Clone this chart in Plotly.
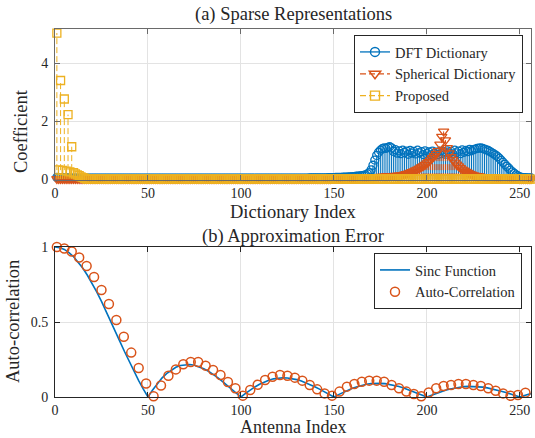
import plotly.graph_objects as go

# ---------------- data ----------------
dict_index = list(range(1, 257))

dft_coef = [
    0.06, 0.05, 0.05, 0.04, 0.04, 0.04, 0.04, 0.03, 0.03, 0.03, 0.03, 0.03, 0.03, 0.03, 0.03, 0.03,
    0.03, 0.03, 0.03, 0.03, 0.03, 0.03, 0.03, 0.03, 0.03, 0.03, 0.03, 0.03, 0.03, 0.03, 0.03, 0.03,
    0.03, 0.03, 0.03, 0.03, 0.03, 0.03, 0.03, 0.03, 0.03, 0.03, 0.03, 0.03, 0.03, 0.03, 0.03, 0.03,
    0.03, 0.03, 0.03, 0.03, 0.03, 0.03, 0.03, 0.03, 0.03, 0.03, 0.03, 0.03, 0.03, 0.03, 0.03, 0.03,
    0.03, 0.03, 0.03, 0.03, 0.03, 0.03, 0.03, 0.03, 0.03, 0.03, 0.03, 0.03, 0.03, 0.03, 0.03, 0.03,
    0.03, 0.03, 0.03, 0.03, 0.03, 0.03, 0.03, 0.03, 0.03, 0.03, 0.03, 0.03, 0.03, 0.03, 0.03, 0.03,
    0.03, 0.03, 0.03, 0.03, 0.03, 0.03, 0.03, 0.03, 0.03, 0.03, 0.03, 0.03, 0.03, 0.03, 0.03, 0.03,
    0.03, 0.03, 0.03, 0.03, 0.03, 0.03, 0.03, 0.03, 0.03, 0.03, 0.03, 0.03, 0.03, 0.03, 0.03, 0.03,
    0.03, 0.03, 0.03, 0.03, 0.03, 0.03, 0.03, 0.03, 0.04, 0.04, 0.04, 0.04, 0.04, 0.04, 0.04, 0.04,
    0.04, 0.04, 0.05, 0.05, 0.05, 0.05, 0.06, 0.06, 0.06, 0.06, 0.07, 0.07, 0.07, 0.08, 0.08, 0.09,
    0.09, 0.10, 0.10, 0.11, 0.12, 0.13, 0.15, 0.18, 0.22, 0.32, 0.48, 0.66, 0.82, 0.93, 1.00, 1.05,
    1.08, 1.06, 1.10, 1.12, 1.08, 0.96, 1.02, 0.90, 0.98, 0.88, 1.00, 0.92, 0.97, 0.86, 0.99, 0.90,
    0.96, 0.87, 1.00, 0.91, 0.95, 0.85, 0.98, 0.88, 0.94, 0.84, 0.97, 0.89, 0.93, 0.85, 0.96, 0.88,
    0.95, 0.86, 0.98, 0.90, 0.96, 0.87, 1.00, 0.91, 0.97, 0.88, 1.01, 0.93, 0.99, 0.95, 1.03, 0.98,
    1.02, 1.04, 1.06, 1.07, 1.08, 1.06, 1.04, 1.01, 0.99, 0.95, 0.91, 0.87, 0.83, 0.78, 0.72, 0.65,
    0.58, 0.51, 0.44, 0.38, 0.31, 0.25, 0.20, 0.15, 0.11, 0.08, 0.06, 0.05, 0.05, 0.04, 0.04, 0.04,
]

sph_coef = [
    0.01, 0.01, 0.01, 0.01, 0.01, 0.01, 0.01, 0.01, 0.01, 0.01, 0.01, 0.01, 0.01, 0.01, 0.01, 0.01,
    0.01, 0.01, 0.01, 0.01, 0.01, 0.01, 0.01, 0.01, 0.01, 0.01, 0.01, 0.01, 0.01, 0.01, 0.01, 0.01,
    0.01, 0.01, 0.01, 0.01, 0.01, 0.01, 0.01, 0.01, 0.01, 0.01, 0.01, 0.01, 0.01, 0.01, 0.01, 0.01,
    0.01, 0.01, 0.01, 0.01, 0.01, 0.01, 0.01, 0.01, 0.01, 0.01, 0.01, 0.01, 0.01, 0.01, 0.01, 0.01,
    0.01, 0.01, 0.01, 0.01, 0.01, 0.01, 0.01, 0.01, 0.01, 0.01, 0.01, 0.01, 0.01, 0.01, 0.01, 0.01,
    0.01, 0.01, 0.01, 0.01, 0.01, 0.01, 0.01, 0.01, 0.01, 0.01, 0.01, 0.01, 0.01, 0.01, 0.01, 0.01,
    0.01, 0.01, 0.01, 0.01, 0.01, 0.01, 0.01, 0.01, 0.01, 0.01, 0.01, 0.01, 0.01, 0.01, 0.01, 0.01,
    0.01, 0.01, 0.01, 0.01, 0.01, 0.01, 0.01, 0.01, 0.01, 0.01, 0.01, 0.01, 0.01, 0.01, 0.01, 0.01,
    0.01, 0.01, 0.01, 0.01, 0.01, 0.01, 0.01, 0.01, 0.01, 0.01, 0.01, 0.01, 0.01, 0.01, 0.01, 0.01,
    0.01, 0.01, 0.01, 0.01, 0.02, 0.02, 0.02, 0.02, 0.02, 0.02, 0.03, 0.03, 0.03, 0.03, 0.04, 0.04,
    0.04, 0.04, 0.05, 0.05, 0.05, 0.06, 0.06, 0.06, 0.07, 0.07, 0.07, 0.08, 0.08, 0.08, 0.09, 0.09,
    0.09, 0.10, 0.10, 0.10, 0.11, 0.11, 0.12, 0.12, 0.13, 0.14, 0.15, 0.16, 0.18, 0.20, 0.22, 0.25,
    0.28, 0.31, 0.34, 0.37, 0.41, 0.45, 0.50, 0.55, 0.60, 0.66, 0.73, 0.80, 0.88, 0.98, 1.20, 1.47,
    1.65, 1.35, 1.08, 0.90, 0.77, 0.67, 0.58, 0.51, 0.45, 0.39, 0.34, 0.30, 0.26, 0.22, 0.19, 0.16,
    0.14, 0.12, 0.11, 0.10, 0.09, 0.08, 0.08, 0.07, 0.07, 0.06, 0.06, 0.05, 0.05, 0.04, 0.04, 0.04,
    0.03, 0.03, 0.03, 0.03, 0.02, 0.02, 0.02, 0.02, 0.02, 0.01, 0.01, 0.01, 0.01, 0.01, 0.01, 0.01,
]

prop_coef = [
    5.05, 0.32, 3.41, 0.30, 2.77, 0.28, 2.23, 0.25, 1.12, 0.22, 0.18, 0.15, 0.12, 0.08, 0.05, 0.03,
] + [0.0] * 240

x_ticks = [0, 50, 100, 150, 200, 250]
y_ticks_top = [0, 2, 4]
y_ticks_bot = [0, 0.5, 1]
y_ticklabels_bot = ["0", "0.5", "1"]

sinc_x = [i * 2.5 for i in range(103)] + [256]
sinc_vals = [
    1.000, 0.996, 0.984, 0.963, 0.935, 0.900, 0.858, 0.810, 0.757, 0.699,
    0.637, 0.572, 0.505, 0.436, 0.368, 0.300, 0.234, 0.170, 0.109, 0.052,
    0.000, 0.047, 0.089, 0.126, 0.156, 0.180, 0.198, 0.210, 0.216, 0.217,
    0.212, 0.203, 0.189, 0.172, 0.152, 0.129, 0.104, 0.078, 0.052, 0.026,
    0.000, 0.024, 0.047, 0.067, 0.085, 0.100, 0.112, 0.121, 0.126, 0.128,
    0.127, 0.123, 0.116, 0.107, 0.095, 0.082, 0.067, 0.051, 0.034, 0.017,
    0.000, 0.016, 0.032, 0.046, 0.059, 0.069, 0.078, 0.085, 0.089, 0.091,
    0.091, 0.089, 0.084, 0.078, 0.070, 0.060, 0.049, 0.038, 0.025, 0.013,
    0.000, 0.012, 0.024, 0.035, 0.045, 0.053, 0.060, 0.065, 0.069, 0.071,
    0.071, 0.069, 0.066, 0.061, 0.055, 0.047, 0.039, 0.030, 0.020, 0.010,
    0.000, 0.010, 0.019, 0.023,
]

ac_x = list(range(1, 257, 4))
ac_vals = [
    1.00, 0.99, 0.97, 0.93, 0.873, 0.80, 0.713, 0.62, 0.513, 0.402, 0.296, 0.193, 0.09, 0.005,
    0.077, 0.142, 0.184, 0.218, 0.233, 0.233, 0.209, 0.18, 0.147, 0.10, 0.058, 0.009,
    0.047, 0.082, 0.113, 0.135, 0.147, 0.142, 0.129, 0.109, 0.08, 0.051, 0.024, 0.009,
    0.036, 0.069, 0.087, 0.102, 0.109, 0.109, 0.102, 0.08, 0.058, 0.036, 0.02, 0.005,
    0.03, 0.058, 0.073, 0.08, 0.087, 0.087, 0.08, 0.073, 0.058, 0.042, 0.024, 0.008, 0.013, 0.029,
]

# ---------------- styling ----------------
BLUE = "#0072BD"
ORANGE = "#D95319"
YELLOW = "#EDB120"
TXT = "#262626"
FONT = "Liberation Serif"
GRID = "#e3e3e3"

W, H = 535, 438


def px(x):
    return x / W


def py(y):
    return (H - y) / H


def stem_xy(xv, yv):
    xs, ys = [], []
    for a, b in zip(xv, yv):
        xs += [a, a, None]
        ys += [0, b, None]
    return xs, ys


fig = go.Figure()

series = [
    ("DFT Dictionary", dft_coef, BLUE, "solid", "circle-open", 8),
    ("Spherical Dictionary", sph_coef, ORANGE, "6px,3px", "triangle-down-open", 9),
    ("Proposed", prop_coef, YELLOW, "6px,3px", "square-open", 8),
]

for name, vals, col, dash, sym, msize in series:
    sx, sy = stem_xy(dict_index, vals)
    fig.add_trace(go.Scatter(x=sx, y=sy, mode="lines", line=dict(color=col, width=1, dash=dash),
                             showlegend=False, hoverinfo="skip", xaxis="x", yaxis="y"))
    fig.add_trace(go.Scatter(x=dict_index, y=vals, mode="markers", cliponaxis=False,
                             marker=dict(symbol=sym, size=msize, color=col, line=dict(color=col, width=1.3)),
                             showlegend=False, xaxis="x", yaxis="y"))

for name, vals, col, dash, sym, msize in series:
    fig.add_trace(go.Scatter(x=[None], y=[None], mode="lines+markers", name=name,
                             line=dict(color=col, width=1.3, dash=dash),
                             marker=dict(symbol=sym, size=msize + 1, color=col, line=dict(color=col, width=1.4)),
                             legend="legend", xaxis="x", yaxis="y"))

fig.add_trace(go.Scatter(x=sinc_x, y=sinc_vals, mode="lines", name="Sinc Function",
                         line=dict(color=BLUE, width=1.6), legend="legend2", xaxis="x2", yaxis="y2"))
fig.add_trace(go.Scatter(x=ac_x, y=ac_vals, mode="markers", name="Auto-Correlation", cliponaxis=False,
                         marker=dict(symbol="circle-open", size=9, color=ORANGE, line=dict(color=ORANGE, width=1.5)),
                         legend="legend2", xaxis="x2", yaxis="y2"))

xdom = [px(55), px(531)]
top_dom = [py(180), py(29.3)]
bot_dom = [py(397), py(247)]

common = dict(showgrid=True, gridcolor=GRID, gridwidth=1, zeroline=False, showline=True,
              mirror="ticks", ticks="inside", ticklen=5, tickwidth=0.8, automargin=False,
              tickfont=dict(family=FONT, size=14, color=TXT))

fig.update_layout(
    width=W, height=H,
    margin=dict(l=0, r=0, t=0, b=0, autoexpand=False),
    paper_bgcolor="white", plot_bgcolor="white",
    showlegend=True,
    xaxis=dict(domain=xdom, anchor="y", range=[0, 256], tickvals=x_ticks,
               linecolor="#6a6a6a", tickcolor="#6a6a6a", **common),
    yaxis=dict(domain=top_dom, anchor="x", range=[-0.03, 5.18], tickvals=y_ticks_top,
               linecolor="#6a6a6a", tickcolor="#6a6a6a", ticklabelstandoff=3, **common),
    xaxis2=dict(domain=xdom, anchor="y2", range=[0, 256], tickvals=x_ticks,
                linecolor=TXT, tickcolor=TXT, **common),
    yaxis2=dict(domain=bot_dom, anchor="x2", range=[0, 1], tickvals=y_ticks_bot,
                ticktext=y_ticklabels_bot, linecolor=TXT, tickcolor=TXT, ticklabelstandoff=3, **common),
    legend=dict(x=px(523), y=py(35), xanchor="right", yanchor="top",
                bgcolor="white", bordercolor=TXT, borderwidth=1,
                font=dict(family=FONT, size=14.5, color=TXT), tracegroupgap=0,
                itemwidth=30),
    legend2=dict(x=px(522), y=py(253), xanchor="right", yanchor="top",
                 bgcolor="white", bordercolor=TXT, borderwidth=1,
                 font=dict(family=FONT, size=14.5, color=TXT), tracegroupgap=0,
                 itemwidth=30),
)


def ann(text, x, y, angle=0, size=18.5, yanchor="middle"):
    fig.add_annotation(text=text, x=px(x), y=py(y), xref="paper", yref="paper",
                       showarrow=False, textangle=angle, xanchor="center", yanchor=yanchor,
                       borderpad=0, font=dict(family=FONT, size=size, color=TXT))


ann("(a) Sparse Representations", 293, 14)
ann("Dictionary Index", 293, 212)
ann("Coefficient", 21, 131, angle=-90)
ann("(b) Approximation Error", 293, 237)
ann("Antenna Index", 293, 438, yanchor="bottom", size=18)
ann("Auto-correlation", 13, 322, angle=-90)

# remove the browser's default 8px page margin so the figure sits at the window corner
fig.write_html("out.html", config={"displayModeBar": False},
               post_script="document.body.style.margin='0';document.body.style.padding='0';")
